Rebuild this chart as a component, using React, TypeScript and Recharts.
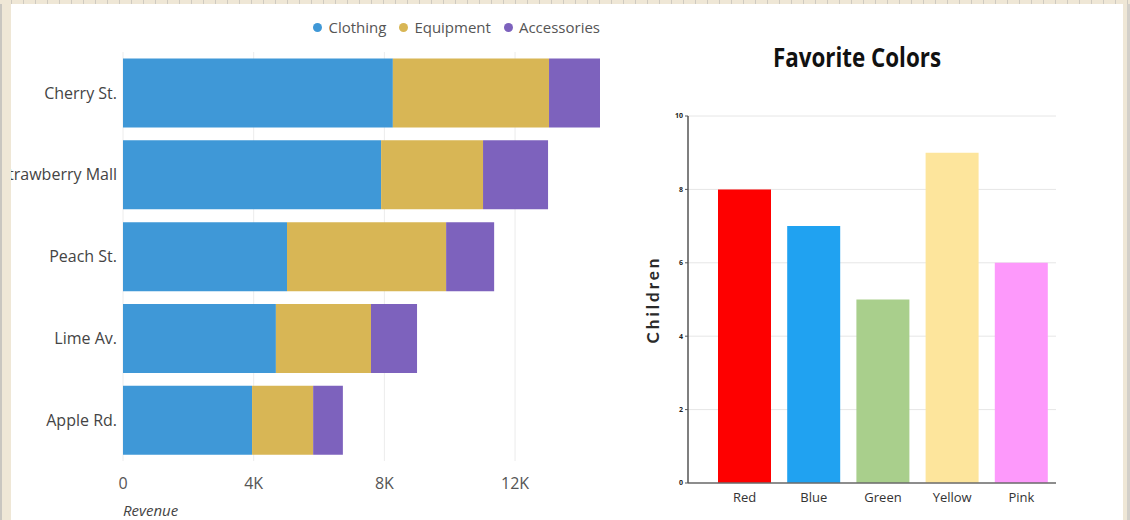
import React from 'react';
import { BarChart, Bar, XAxis, YAxis, CartesianGrid, Legend, Cell } from 'recharts';

// ---- Left chart data ----
const stores = ['Cherry St.', 'Strawberry Mall', 'Peach St.', 'Lime Av.', 'Apple Rd.'];
const clothing = [8260, 7900, 5020, 4680, 3950];
const equipment = [4780, 3120, 4870, 2910, 1870];
const accessories = [1560, 1990, 1470, 1410, 910];
const revenueTicks = [0, 4000, 8000, 12000];
const seriesNames = ['Clothing', 'Equipment', 'Accessories'];
const seriesColors = ['#3f98d7', '#d8b655', '#7d62bd'];

// ---- Right chart data ----
const colorNames = ['Red', 'Blue', 'Green', 'Yellow', 'Pink'];
const childrenCounts = [8, 7, 5, 9, 6];
const colorFills = ['#fe0000', '#20a2f1', '#a9cf8c', '#fde59c', '#fd99fb'];
const childTicks = [0, 2, 4, 6, 8, 10];

const storeData = stores.map((s, i) => ({
  store: s,
  Clothing: clothing[i],
  Equipment: equipment[i],
  Accessories: accessories[i],
}));

const colorData = colorNames.map((c, i) => ({ name: c, value: childrenCounts[i] }));

const FONT = '"Open Sans", "Noto Sans", sans-serif';

const LegendContent = () => (
  <div style={{ display: 'flex', alignItems: 'center', fontFamily: FONT, fontSize: 15, color: '#555', whiteSpace: 'nowrap' }}>
    {seriesNames.map((n, i) => (
      <span key={n} style={{ display: 'inline-flex', alignItems: 'center', marginLeft: i === 0 ? 0 : 13 }}>
        <span style={{ width: 9, height: 9, borderRadius: '50%', background: seriesColors[i], display: 'inline-block', marginRight: 6 }} />
        {n}
      </span>
    ))}
  </div>
);

const RevenueLabel = (props: any) => {
  const vb = props.viewBox || {};
  return (
    <text x={vb.x} y={vb.y + vb.height - 4} fontFamily={FONT} fontSize={15} fontStyle="italic" fill="#444" textAnchor="start">
      Revenue
    </text>
  );
};

const ChildrenLabel = (props: any) => {
  const vb = props.viewBox || {};
  const x = vb.x + 21;
  const y = vb.y + vb.height / 2;
  return (
    <text x={x} y={y} transform={`rotate(-90, ${x}, ${y})`} textAnchor="middle" dominantBaseline="central"
      fontFamily='Lato, "Open Sans", sans-serif' fontWeight={700} fontSize={17} letterSpacing={3} fill="#2a2a2a">
      Children
    </text>
  );
};

const revenueGridGenerator = (props: any) => {
  const scale = props?.xAxis?.scale;
  if (typeof scale === 'function') return revenueTicks.map((t) => scale(t));
  if (scale && typeof scale.map === 'function') return revenueTicks.map((t) => scale.map(t));
  return [];
};

export default function App() {
  return (
    <div style={{ position: 'absolute', left: 0, top: 0, width: 1130, height: 520, background: '#efe7d6', overflow: 'hidden' }}>
      {/* frame decoration */}
      <div style={{ position: 'absolute', left: 0, top: 0, width: 2, height: 520, background: '#c9c6c0' }} />
      <div style={{ position: 'absolute', left: 1127, top: 0, width: 3, height: 520, background: '#d2cfc9' }} />
      <div style={{ position: 'absolute', left: 0, top: 0, width: 1130, height: 4,
        background: 'repeating-linear-gradient(90deg, #efe7d6 0px, #efe7d6 11px, #cfcac0 11px, #cfcac0 12px)' }} />
      <div style={{ position: 'absolute', left: 11, top: 4, width: 1112, height: 516, background: '#ffffff' }} />

      {/* Left chart */}
      <div style={{ position: 'absolute', left: 11, top: 0 }}>
        <BarChart width={620} height={520} data={storeData} layout="vertical"
          margin={{ top: 52, right: 31, bottom: 0, left: 0 }} barCategoryGap="8%">
          <CartesianGrid horizontal={false} stroke="#ececec" verticalCoordinatesGenerator={revenueGridGenerator} />
          <XAxis type="number" domain={[0, 14600]} ticks={revenueTicks} allowDataOverflow
            tickFormatter={(v: number) => (v === 0 ? '0' : `${v / 1000}K`)}
            axisLine={false} tickLine={false} tickSize={0} tickMargin={17} height={59}
            tick={{ fontFamily: FONT, fontSize: 16, fill: '#555' }}
            label={<RevenueLabel />} />
          <YAxis type="category" dataKey="store" width={112} axisLine={false} tickLine={false}
            tickSize={0} tickMargin={6} tick={{ fontFamily: FONT, fontSize: 16, fill: '#444' }} />
          <Legend verticalAlign="middle" align="center" content={<LegendContent />}
            wrapperStyle={{ top: 17, right: 31, left: 'auto', width: 'auto', height: 'auto', bottom: 'auto' }} />
          {seriesNames.map((n, i) => (
            <Bar key={n} dataKey={n} stackId="a" fill={seriesColors[i]} isAnimationActive={false} />
          ))}
        </BarChart>
      </div>

      {/* Right chart title */}
      <div style={{ position: 'absolute', left: 700, top: 40, width: 314, textAlign: 'center', fontFamily: FONT,
        fontWeight: 700, fontSize: 26, lineHeight: '34px', color: '#111', transform: 'scaleX(0.86)' }}>
        Favorite Colors
      </div>

      {/* Right chart */}
      <div style={{ position: 'absolute', left: 631, top: 0 }}>
        <BarChart width={480} height={520} data={colorData} margin={{ top: 116, right: 55, bottom: 0, left: 0 }}>
          <CartesianGrid vertical={false} stroke="#e6e6e6" />
          <XAxis dataKey="name" height={37} padding={{ left: 22, right: 0 }} axisLine={{ stroke: '#6b6b6b', strokeWidth: 1.5 }}
            tickLine={false} tickSize={0} tickMargin={10}
            tick={{ fontFamily: FONT, fontSize: 13, fill: '#333' }} />
          <YAxis domain={[0, 10]} ticks={childTicks} width={57} axisLine={{ stroke: '#555', strokeWidth: 1.5 }}
            tickLine={{ stroke: '#555' }} tickSize={3} tickMargin={2}
            tick={{ fontFamily: FONT, fontSize: 7, fontWeight: 700, fill: '#222' }}
            label={<ChildrenLabel />} />
          <Bar dataKey="value" barSize={53} isAnimationActive={false}>
            {colorData.map((d, i) => (
              <Cell key={d.name} fill={colorFills[i]} />
            ))}
          </Bar>
        </BarChart>
      </div>
    </div>
  );
}
